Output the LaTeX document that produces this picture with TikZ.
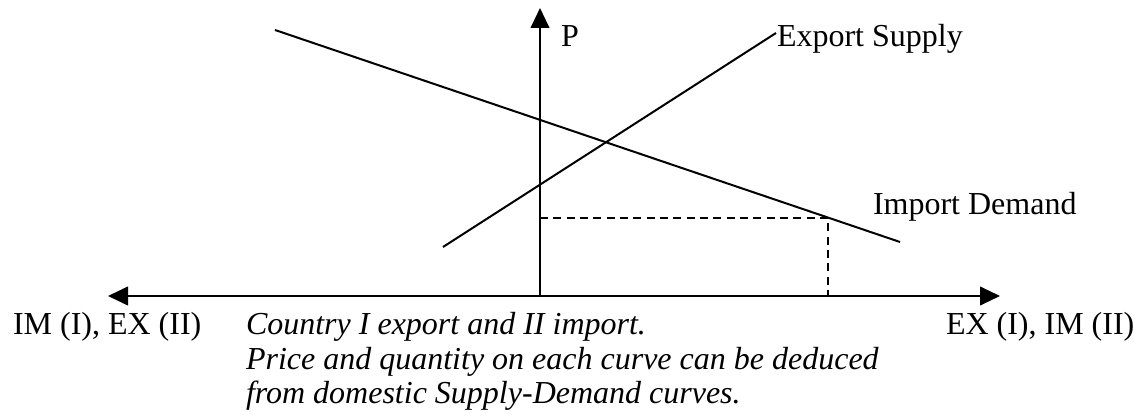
\documentclass[tikz,border=0pt]{standalone}
\usepackage{fontspec}
\setmainfont{Liberation Serif}
\usetikzlibrary{arrows.meta}
\begin{document}
\begin{tikzpicture}[x=0.375pt, y=-0.375pt, >={Triangle[length=7.5pt,width=7pt]}, line width=0.75pt, font=\fontsize{12}{13}\selectfont]
\useasboundingbox (0,0) rectangle (1134,415);
\coordinate (origin) at (540,296);
\coordinate (ptop) at (540,8);
\coordinate (qleft) at (108,296);
\coordinate (qright) at (1000,296);
\draw[->] (origin) -- (ptop);
\draw[<->] (qleft) -- (qright);
\coordinate (demstart) at (275,30);
\coordinate (demend) at (900,242);
\coordinate (supstart) at (443,247);
\coordinate (supend) at (776,33);
\coordinate (eq) at (828,218);
\coordinate (peq) at (origin |- eq);
\coordinate (qeq) at (eq |- origin);
\draw (demstart) -- (demend);
\draw (supstart) -- (supend);
\draw[dash pattern=on 3pt off 2pt] (peq) -- (eq) -- (qeq);
\node[anchor=base west, inner sep=0] (plabel) at (560,47) {P};
\node[anchor=base west, inner sep=0] (suplabel) at (776,47) {Export Supply};
\node[anchor=base west, inner sep=0] (demlabel) at (872,215) {Import Demand};
\node[anchor=base west, inner sep=0] (leftlabel) at (12,335) {IM (I), EX (II)};
\node[anchor=base west, inner sep=0] (rightlabel) at (945,335) {EX (I), IM (II)};
\node[anchor=base west, inner sep=0, align=left, font=\fontsize{12}{13}\selectfont\itshape] (note) at (245,404) {Country I export and II import.\\Price and quantity on each curve can be deduced\\from domestic Supply-Demand curves.};
\end{tikzpicture}
\end{document}
